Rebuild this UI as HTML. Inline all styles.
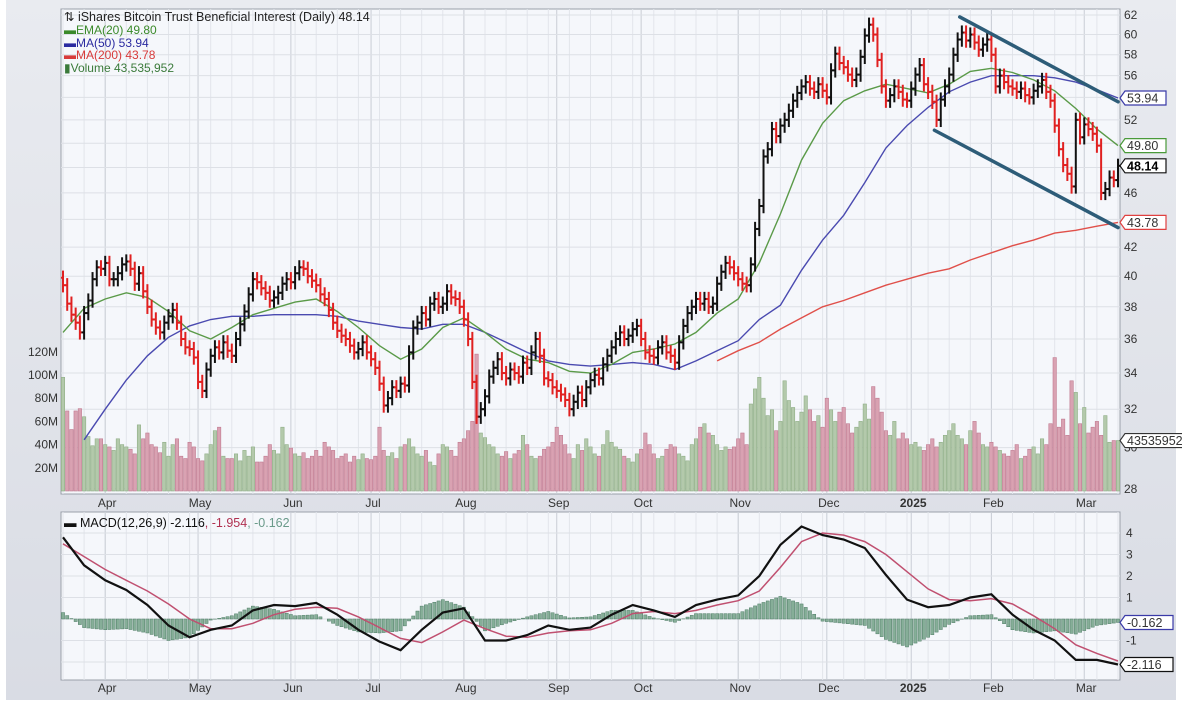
<!DOCTYPE html>
<html><head><meta charset="utf-8"><style>
html,body{margin:0;padding:0;background:#fff;}
svg{display:block;font-family:"Liberation Sans",sans-serif;}
</style></head><body>
<svg id="chart" width="1182" height="718" viewBox="0 0 1182 718">
<defs>
<linearGradient id="bg" x1="0" y1="0" x2="0" y2="1"><stop offset="0" stop-color="#e9ebf0"/><stop offset="1" stop-color="#d9dce4"/></linearGradient>
<clipPath id="pclip"><rect x="61" y="9" width="1059" height="485"/></clipPath>
<clipPath id="mclip"><rect x="61" y="512" width="1059" height="168"/></clipPath>
</defs>
<rect x="6" y="0" width="1170" height="700" fill="url(#bg)"/>
<rect x="61" y="9" width="1059" height="485" fill="#f5f7fb" stroke="#9aa0aa"/>
<rect x="61" y="512" width="1059" height="168" fill="#f5f7fb" stroke="#9aa0aa"/>
<g id="grid"></g>
<g id="vol" clip-path="url(#pclip)"></g>
<g id="lines" clip-path="url(#pclip)"></g>
<g id="bars" clip-path="url(#pclip)"></g>
<g id="macd" clip-path="url(#mclip)"></g>
<g id="axes"></g>
<g font-size="12.5">
<text x="64" y="21" fill="#222">⇅ iShares Bitcoin Trust Beneficial Interest (Daily) 48.14</text>
<text x="64" y="34" fill="#3a8a2a" font-size="12">▬EMA(20) 49.80</text>
<text x="64" y="47" fill="#2a2aa0" font-size="12">▬MA(50) 53.94</text>
<text x="64" y="59" fill="#d83a3a" font-size="12">▬MA(200) 43.78</text>
<text x="64" y="72" fill="#3a7a3a" font-size="12">▮Volume 43,535,952</text>
</g>
<text x="64" y="527" font-size="12.5"><tspan fill="#111">▬ MACD(12,26,9) -2.116</tspan><tspan fill="#b03050">, -1.954</tspan><tspan fill="#6a9a8a">, -0.162</tspan></text>
</svg>
<script>
const closes=[39.4,38.2,37.5,37.0,36.4,37.6,38.4,39.8,40.6,40.5,
40.9,39.8,39.8,40.2,40.8,41.0,40.5,39.5,40.2,39.0,
38.0,37.2,36.7,36.4,37.0,37.4,37.8,37.0,36.0,35.5,
35.4,34.9,33.5,33.0,34.2,35.0,35.5,35.2,35.8,35.3,
35.0,36.0,36.9,37.7,38.8,39.8,39.6,39.2,38.9,38.4,
38.6,38.9,39.5,39.8,39.6,40.2,40.6,40.5,40.0,39.7,
39.4,38.8,38.5,37.8,37.0,36.5,36.2,36.0,35.6,35.2,
35.4,35.8,35.2,34.8,34.3,33.4,32.2,32.6,33.2,33.0,
33.4,33.3,35.2,36.7,37.0,37.6,37.2,38.2,38.5,38.0,
38.2,39.0,38.6,38.5,38.0,37.2,36.0,33.5,31.6,32.0,
32.7,33.8,34.3,34.8,34.0,33.7,34.2,34.0,33.8,34.6,
34.3,35.2,36.0,35.0,33.7,33.6,33.2,33.0,32.8,32.5,
32.0,32.4,32.9,32.5,33.2,33.6,33.9,33.7,34.5,35.0,
35.5,36.0,36.4,36.0,36.2,36.6,36.8,36.0,35.2,35.0,
34.9,35.5,35.8,35.2,35.0,34.6,35.8,36.8,37.6,38.0,
38.5,38.2,38.5,38.0,38.2,39.5,40.3,40.9,40.6,40.2,
39.8,39.5,39.4,40.8,43.3,45.0,48.9,49.5,51.2,50.6,
51.5,52.0,52.8,53.7,54.4,55.0,55.4,54.8,54.5,55.2,
54.6,54.0,56.5,58.1,57.2,56.8,56.1,55.6,56.1,57.8,
59.9,61.0,60.0,57.5,55.0,53.7,54.2,55.0,54.5,53.8,
53.7,54.8,56.1,57.0,55.2,54.5,53.6,52.0,53.8,55.0,
56.1,58.0,59.5,60.2,59.4,60.0,59.2,58.5,59.0,59.5,
58.0,55.0,56.0,55.4,55.0,54.8,54.5,54.8,54.2,54.0,
54.6,55.0,55.6,54.5,53.7,51.5,49.5,48.2,47.5,46.5,
52.0,50.5,51.6,51.2,50.8,49.8,46.0,46.3,47.2,47.0,48.14];
const volumes=[98,69,53,69,71,64,47,39,45,45,
40,38,35,45,40,38,36,32,57,45,
50,40,38,33,42,30,40,45,30,28,
42,38,28,26,32,40,52,55,30,28,
28,32,26,35,30,38,25,25,30,40,
35,32,55,40,37,32,30,33,28,30,
35,30,42,38,35,28,30,32,25,30,
27,32,28,27,30,55,35,30,33,28,
38,40,45,38,32,30,35,25,22,32,
40,38,35,30,42,45,52,60,118,50,
46,40,38,32,30,34,28,32,35,48,
40,30,28,30,36,38,42,55,48,40,
32,28,40,35,45,38,32,30,40,52,
42,38,36,30,28,25,32,36,50,40,
32,28,30,36,40,38,32,30,26,40,
45,55,58,50,48,40,35,38,36,38,
45,50,40,75,88,98,80,65,70,52,
60,95,78,72,60,68,82,70,60,65,
55,80,70,60,68,72,58,50,55,60,
75,62,90,80,68,52,48,60,45,50,
45,40,42,38,35,40,45,38,42,48,
52,58,48,45,40,52,60,50,40,38,
42,38,35,32,30,35,40,28,30,36,
38,32,45,40,58,115,55,62,48,95,
85,58,72,50,55,60,48,65,42,43.5,43.5];
// sampled every 5 days
const ema20=[36.4,37.9,38.5,38.9,38.6,37.7,36.5,36.0,36.7,37.5,37.9,38.3,38.5,37.7,36.7,35.6,34.8,35.4,36.7,37.3,36.4,35.4,34.8,34.6,34.1,34.0,34.5,35.2,35.4,35.7,36.4,37.6,38.5,40.9,44.4,48.6,51.7,53.7,54.6,55.2,54.8,54.4,55.2,56.4,56.7,56.3,55.6,54.6,53.0,51.2,49.8];
const ma50Start=5;
const ma50=[30.4,32.0,33.6,35.0,36.1,36.8,37.2,37.4,37.4,37.5,37.5,37.5,37.4,37.1,36.9,36.7,36.6,36.9,36.9,36.4,35.8,35.2,34.7,34.5,34.4,34.5,34.6,34.5,34.2,34.7,35.3,35.9,37.2,38.1,40.4,42.5,44.3,46.8,49.6,51.5,53.1,54.5,55.4,56.0,56.0,56.0,55.8,55.4,54.7,53.94];
const ma200Start=155;
const ma200=[34.7,35.3,35.8,36.6,37.3,38.0,38.4,38.9,39.4,39.8,40.2,40.5,41.1,41.6,42.1,42.5,43.0,43.2,43.5,43.78];
const macdLine=[3.8,2.5,1.8,1.35,0.65,-0.3,-0.85,-0.5,-0.3,0.4,0.65,0.6,0.75,0.2,-0.5,-1.05,-1.45,-0.5,0.3,0.5,-1.0,-1.0,-0.75,-0.3,-0.5,-0.4,0.2,0.65,0.4,0.1,0.65,0.9,1.1,2.0,3.45,4.3,3.9,3.7,3.3,2.05,0.9,0.55,0.65,1.0,1.15,0.2,-0.5,-1.0,-1.9,-1.9,-2.116];
const signalLine=[3.5,2.9,2.3,1.8,1.3,0.7,0.0,-0.45,-0.45,-0.2,0.2,0.45,0.55,0.5,0.1,-0.4,-0.9,-1.1,-0.6,-0.05,-0.45,-0.8,-0.85,-0.65,-0.55,-0.5,-0.2,0.25,0.35,0.25,0.4,0.65,0.85,1.3,2.4,3.6,4.0,3.9,3.6,3.0,2.2,1.4,0.9,0.85,0.95,0.7,0.15,-0.45,-1.2,-1.6,-1.954];
const priceTicks=[62,60,58,56,52,46,42,40,38,36,34,32,30,28];
const volTicks=[20,40,60,80,100,120];
const macdTicks=[4,3,2,1,-1];
const monthNames=["Apr","May","Jun","Jul","Aug","Sep","Oct","Nov","Dec","2025","Feb","Mar"];
const monthDays=[10,32,54,73,95,117,137,160,181,201,220,242];
const trendUpper=[[212.5,61.8],[250,53.6]];
const trendLower=[[206.5,51.1],[250,43.4]];

const NS="http://www.w3.org/2000/svg";
const X=i=>63+i*4.22;
const YP=p=>15+596*Math.log(62/p);
const YV=v=>491-v*1.16;
const YM=m=>619-m*21.5;
function mk(tag,attrs,parent){const e=document.createElementNS(NS,tag);for(const k in attrs)e.setAttribute(k,attrs[k]);parent.appendChild(e);return e;}
const G=id=>document.getElementById(id);

const grid=G('grid');
for(let i=0;i<=250;i+=5){[[9,494],[512,680]].forEach(r=>{const l=mk('line',{x1:X(i),x2:X(i),y1:r[0],y2:r[1],stroke:'#e2e5eb','stroke-width':1},grid);

});}
monthDays.forEach((d,k)=>{[[9,494],[512,680]].forEach(r=>{const l=mk('line',{x1:X(d),x2:X(d),y1:r[0],y2:r[1],stroke:'#c9cdd5','stroke-width':1},grid);

});});
for(let p=28;p<=62;p+=2){const l=mk('line',{x1:61,x2:1120,y1:YP(p),y2:YP(p),stroke:'#dde0e6'},grid);

}
[4,3,2,1,0,-1,-2].forEach(m=>{const l=mk('line',{x1:61,x2:1120,y1:YM(m),y2:YM(m),stroke:'#dde0e6'},grid);

});

const vol=G('vol');
volumes.forEach((v,i)=>{const up=i===0||closes[i]>=closes[i-1];
const r=mk('rect',{x:X(i)-1.7,y:YV(v),width:3.4,height:491-YV(v),fill:up?'#b3c9ab':'#d9a2b2',stroke:up?'#8fae86':'#c07a90','stroke-width':0.6},vol);

});

const lines=G('lines');
function poly(arr,start,step,col,w,name){const pts=arr.map((v,k)=>X(start+k*step).toFixed(1)+','+YP(v).toFixed(1)).join(' ');
const p=mk('polyline',{points:pts,fill:'none',stroke:col,'stroke-width':w},lines);

}
poly(ma200,ma200Start,5,'#e0504a',1.4,'ma200-line');
poly(ma50,ma50Start,5,'#4a4ab0',1.4,'ma50-line');
poly(ema20,0,5,'#5a9a48',1.4,'ema20-line');

const bars=G('bars');
closes.forEach((c,i)=>{const o=i===0?c+0.5:closes[i-1];const up=c>=o;const col=up?'#111':'#e02020';
const hi=Math.max(o,c)*1.012,lo=Math.min(o,c)*0.988;const x=X(i);
const g=mk('g',{stroke:col,'stroke-width':2},bars);


mk('line',{x1:x,x2:x,y1:YP(hi),y2:YP(lo)},g);
mk('line',{x1:x-2.5,x2:x,y1:YP(o),y2:YP(o)},g);
mk('line',{x1:x,x2:x+2.5,y1:YP(c),y2:YP(c)},g);});

[trendUpper,trendLower].forEach((t,k)=>{const l=mk('line',{x1:X(t[0][0]),y1:YP(t[0][1]),x2:X(t[1][0]),y2:YP(t[1][1]),stroke:'#2d5c78','stroke-width':3.5,'stroke-linecap':'round'},G('axes'));

});

const mg=G('macd');
for(let i=0;i<=250;i++){const k=Math.min(Math.floor(i/5),49),f=(i-k*5)/5;
const h=(macdLine[k]*(1-f)+macdLine[k+1]*f)-(signalLine[k]*(1-f)+signalLine[k+1]*f);
const y0=YM(0),y1=YM(h);
const r=mk('rect',{x:X(i)-1.6,y:Math.min(y0,y1),width:3.2,height:Math.abs(y1-y0),fill:'#86ae98',stroke:'#4f7d66','stroke-width':0.5},mg);

}
function mpoly(arr,col,w,name){const p=mk('polyline',{points:arr.map((v,k)=>X(k*5).toFixed(1)+','+YM(v).toFixed(1)).join(' '),fill:'none',stroke:col,'stroke-width':w},mg);

}
mpoly(signalLine,'#c05070',1.5,'signal-line');
mpoly(macdLine,'#111',2.2,'macd-line');

const ax=G('axes');
priceTicks.forEach(p=>{const t=mk('text',{x:1124,y:YP(p)+4,'font-size':12,fill:'#333'},ax);t.textContent=p;

});
volTicks.forEach(v=>{const t=mk('text',{x:58,y:YV(v)+4,'font-size':12,fill:'#333','text-anchor':'end'},ax);t.textContent=v+'M';

});
macdTicks.forEach(m=>{const t=mk('text',{x:1126,y:YM(m)+4,'font-size':12,fill:'#333'},ax);t.textContent=m;

});
monthNames.forEach((n,k)=>{[507,692].forEach(y=>{const t=mk('text',{x:X(monthDays[k])+2,y:y,'font-size':12,fill:'#333','text-anchor':'middle','font-weight':n==='2025'?'bold':'normal'},ax);t.textContent=n;

});});
function tag(y,txt,col,bold,name){const g=mk('g',{},ax);


const w=txt.length*7+6;
mk('path',{d:`M1120 ${y} L1125 ${y-7} L${1125+w} ${y-7} L${1125+w} ${y+7} L1125 ${y+7} Z`,fill:'#fff',stroke:col,'stroke-width':1.2},g);
const t=mk('text',{x:1127,y:y+4.5,'font-size':12.5,fill:bold?'#000':'#333','font-weight':bold?'bold':'normal'},g);t.textContent=txt;}
tag(YP(ma50[ma50.length-1]),'53.94','#3a3aa8',false,'ma50-value-tag');
tag(YP(ema20[ema20.length-1]),'49.80','#4a9a3a',false,'ema20-value-tag');
tag(YP(closes[closes.length-1]),'48.14','#111',true,'close-value-tag');
tag(YP(ma200[ma200.length-1]),'43.78','#e04040',false,'ma200-value-tag');
tag(YV(volumes[volumes.length-1]),'43535952','#333',false,'volume-value-tag');
tag(YM(-0.162),'-0.162','#3a3aa8',false,'histogram-value-tag');
tag(YM(-2.116),'-2.116','#111',false,'macd-value-tag');
</script>
</body></html>
